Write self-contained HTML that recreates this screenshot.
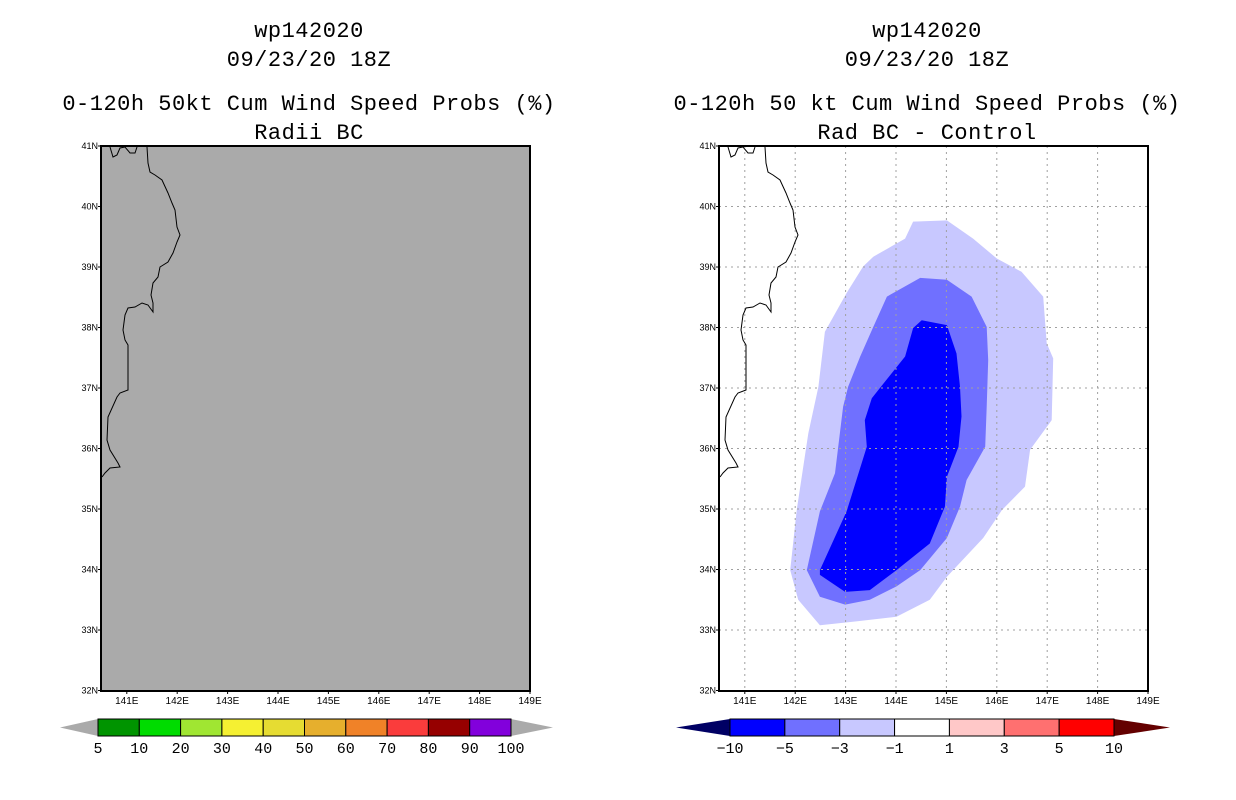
<!DOCTYPE html>
<html><head><meta charset="utf-8"><style>
body{margin:0;background:#fff;}
svg{display:block;font-family:"Liberation Sans",sans-serif;}
.tt{font-family:"Liberation Mono",monospace;letter-spacing:0.5px;}
</style></head><body>
<svg id="s" width="1236" height="800" viewBox="0 0 1236 800">
<rect width="1236" height="800" fill="#fff"/>
<g class="tt" font-size="22" text-anchor="middle" fill="#000">
<text x="309" y="37">wp142020</text><text x="309" y="66">09/23/20 18Z</text>
<text x="309" y="110">0-120h 50kt Cum Wind Speed Probs (%)</text><text x="309" y="139">Radii BC</text></g>
<g class="tt" font-size="22" text-anchor="middle" fill="#000">
<text x="927" y="37">wp142020</text><text x="927" y="66">09/23/20 18Z</text>
<text x="927" y="110">0-120h 50 kt Cum Wind Speed Probs (%)</text><text x="927" y="139">Rad BC - Control</text></g>
<g id="L"></g>
<g id="R"></g>
<g id="CB"></g>
</svg>
<script>
const latTicks=[32,33,34,35,36,37,38,39,40,41];
const lonTicks=[141,142,143,144,145,146,147,148,149];
const probLevels=["5","10","20","30","40","50","60","70","80","90","100"];
const probColors=["#009400","#00dc00","#a0e632","#f5f032","#e6dc32","#e6af2d","#f08228","#fa3c3c","#960000","#8200dc"];
const diffLevels=["-10","-5","-3","-1","1","3","5","10"];
const diffColors=["#0000ff","#7070ff","#c8c8ff","#ffffff","#ffc8c8","#ff7070","#ff0000"];
const outerLon=[144.34,145.01,145.53,146.0,146.49,146.92,146.99,147.12,147.09,146.66,146.56,146.10,145.73,145.01,144.67,144.01,143.19,142.49,142.06,141.90,142.03,142.26,142.46,142.59,143.02,143.35,143.55,144.18];
const outerLat=[39.75,39.77,39.47,39.14,38.92,38.51,37.74,37.49,36.47,35.98,35.37,34.98,34.52,33.88,33.50,33.22,33.14,33.08,33.50,33.99,34.98,36.25,37.02,37.93,38.57,39.01,39.17,39.47];
const midLon=[144.48,145.01,145.50,145.80,145.83,145.80,145.77,145.40,145.27,145.01,144.48,144.01,143.48,142.99,142.49,142.23,142.49,142.79,142.95,143.05,143.29,143.55,143.82];
const midLat=[38.82,38.79,38.51,38.01,37.46,36.69,36.03,35.48,35.04,34.52,33.99,33.72,33.50,33.42,33.55,33.99,34.96,35.59,36.69,37.02,37.52,38.01,38.51];
const innerLon=[144.51,145.01,145.20,145.27,145.30,145.24,145.01,144.97,144.67,144.01,143.48,142.99,142.49,142.49,143.02,143.42,143.38,143.52,143.68,144.18,144.34];
const innerLat=[38.12,38.04,37.57,37.02,36.53,36.03,35.53,35.04,34.43,33.99,33.66,33.63,33.91,33.99,34.96,36.03,36.47,36.83,37.00,37.52,37.99];
const NS="http://www.w3.org/2000/svg";
function mk(t,a,p){const e=document.createElementNS(NS,t);for(const k in a)e.setAttribute(k,a[k]);p.appendChild(e);return e;}
const coast="110,147 113,157 117,155 120,148 125,147 130,153 135,153 137,147 M147,147 148,163 150,172 155,175 162,180 168,193 172,203 175,210 177,227 180,235 177,242 173,253 168,262 160,267 158,277 153,283 151,295 153,303 153,312 148,305 142,303 135,307 128,308 125,315 123,330 125,340 128,345 128,390 120,393 117,397 108,417 107,440 110,450 118,463 120,467 110,468 105,473 102,477";
function panel(g,x0,bg,grid,polys){
  const W=429,T=146,B=691;
  const X=lon=>x0+W-(149-lon)*50.4, Y=lat=>T+(41-lat)*60.5;
  const r=mk('rect',{x:x0,y:T,width:W,height:B-T,fill:bg},g);
  
  
  polys.forEach(([lo,la,c,n])=>{
    const p=mk('polygon',{points:lo.map((v,i)=>X(v).toFixed(1)+','+Y(la[i]).toFixed(1)).join(' '),fill:c},g);
    
    
  });
  if(grid){
    lonTicks.slice(0,-1).forEach(v=>{const l=mk('line',{x1:X(v),x2:X(v),y1:T,y2:B,stroke:'#a0a0a0','stroke-dasharray':'2,4'},g);
      });
    latTicks.slice(1,-1).forEach(v=>{const l=mk('line',{x1:x0,x2:x0+W,y1:Y(v),y2:Y(v),stroke:'#a0a0a0','stroke-dasharray':'2,4'},g);
      });
  }
  const cst=coast.split(' M').map(s=>'M'+s.split(' ').map(pt=>{const[a,b]=pt.split(',');return (+a-101+x0)+','+b;}).join(' L')).join(' ');
  const c=mk('path',{d:cst,fill:'none',stroke:'#000','stroke-width':1},g);
  
  const f=mk('rect',{x:x0,y:T,width:W,height:B-T,fill:'none',stroke:'#000','stroke-width':2},g);
  
  latTicks.forEach(v=>{mk('line',{x1:x0-3,x2:x0,y1:Y(v),y2:Y(v),stroke:'#000'},g);
    const t=mk('text',{x:x0-3,y:Y(v)+3,'font-size':9,'text-anchor':'end'},g);t.textContent=v+'N';
    });
  lonTicks.forEach(v=>{mk('line',{x1:X(v),x2:X(v),y1:B,y2:B+3,stroke:'#000'},g);
    const t=mk('text',{x:X(v),y:B+13,'font-size':10,'text-anchor':'middle'},g);t.textContent=v+'E';
    });
}
panel(document.getElementById('L'),101,'#aaaaaa',false,[]);
panel(document.getElementById('R'),719,'#ffffff',true,[[outerLon,outerLat,'#c8c8ff','contour-minus1'],[midLon,midLat,'#7070ff','contour-minus3'],[innerLon,innerLat,'#0000ff','contour-minus5']]);
function cbar(g,x1,x2,tipL,tipR,colors,labels,lc,rc){
  const y1=719,y2=736,n=colors.length,w=(x2-x1)/n;
  const a=mk('polygon',{points:`${tipL},${(y1+y2)/2} ${x1},${y1} ${x1},${y2}`,fill:lc},g);
  
  const b=mk('polygon',{points:`${tipR},${(y1+y2)/2} ${x2},${y1} ${x2},${y2}`,fill:rc},g);
  
  colors.forEach((c,i)=>{const r=mk('rect',{x:x1+i*w,y:y1,width:w,height:y2-y1,fill:c,stroke:'#000','stroke-width':1},g);
    });
  labels.forEach((l,i)=>{const t=mk('text',{x:x1+i*w,y:753,'font-size':15,'text-anchor':'middle','font-family':'Liberation Mono, monospace'},g);t.textContent=l.replace('-','\u2212');
    });
}
const cb=document.getElementById('CB');
cbar(cb,98,511,60,553,probColors,probLevels,'#aaaaaa','#aaaaaa');
cbar(cb,730,1114,676,1170,diffColors,diffLevels,'#000064','#640000');
</script>
</body></html>
